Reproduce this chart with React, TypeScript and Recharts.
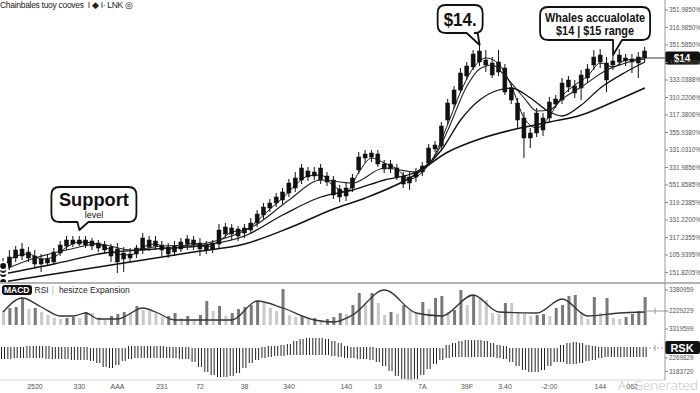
import React from 'react';
import { ComposedChart, Bar, Line, XAxis, YAxis, ReferenceLine, ReferenceDot, Cell } from 'recharts';

// [open, high, low, close]
const candles: [number, number, number, number][] = [
  [3.35, 4.0, 3.1, 3.7], [3.55, 4.4, 3.4, 4.05], [4.0, 4.6, 3.8, 4.4], [4.45, 4.75, 3.9, 4.1], [4.3, 4.55, 3.8, 4.0],
  [4.1, 4.4, 3.5, 3.7], [3.95, 4.2, 3.3, 3.7], [3.75, 4.2, 3.6, 3.95], [3.8, 4.5, 3.65, 4.3], [4.25, 4.85, 4.1, 4.65],
  [4.6, 5.1, 4.4, 4.9], [4.9, 5.1, 4.55, 4.7], [4.7, 5.1, 4.6, 4.9], [4.9, 5.1, 4.5, 4.65], [4.85, 5.0, 4.4, 4.6],
  [4.75, 4.9, 4.3, 4.5], [4.65, 4.85, 4.2, 4.4], [4.55, 4.7, 3.8, 4.1], [4.45, 4.75, 3.25, 3.8], [3.95, 4.55, 3.3, 4.25],
  [4.0, 4.5, 3.8, 4.2], [4.2, 4.65, 4.0, 4.5], [4.4, 5.25, 4.2, 5.0], [4.9, 5.1, 4.35, 4.55], [4.6, 5.1, 4.4, 4.85],
  [4.65, 4.85, 4.1, 4.4], [4.55, 4.75, 4.0, 4.2], [4.3, 4.85, 4.1, 4.6], [4.45, 5.0, 4.3, 4.8], [4.7, 5.15, 4.4, 4.95],
  [4.9, 5.1, 4.4, 4.65], [4.75, 5.0, 4.1, 4.45], [4.65, 4.85, 4.2, 4.4], [4.45, 4.9, 4.25, 4.75], [4.7, 5.7, 4.5, 5.4],
  [5.2, 5.75, 5.0, 5.55], [5.5, 5.7, 4.9, 5.2], [5.1, 5.6, 4.85, 5.45], [5.25, 5.7, 5.0, 5.5], [5.4, 6.0, 5.2, 5.75],
  [5.75, 6.4, 5.55, 6.2], [6.15, 6.75, 5.95, 6.55], [6.5, 6.95, 6.3, 6.75], [6.75, 7.25, 6.55, 7.05], [6.9, 7.5, 6.7, 7.3],
  [7.25, 7.95, 7.05, 7.75], [7.5, 8.3, 7.3, 8.0], [7.9, 8.7, 7.7, 8.5], [8.35, 8.55, 7.85, 8.05], [8.1, 8.55, 7.9, 8.3],
  [8.5, 8.7, 7.7, 7.9], [8.1, 8.3, 7.6, 7.8], [7.9, 8.1, 6.95, 7.15], [7.45, 7.65, 6.8, 7.05], [7.1, 7.75, 6.85, 7.5],
  [7.5, 8.2, 7.3, 8.0], [8.4, 9.3, 8.2, 9.05], [9.0, 9.4, 8.75, 9.2], [9.05, 9.4, 8.8, 9.25], [9.2, 9.4, 8.55, 8.7],
  [8.7, 8.9, 8.25, 8.45], [8.45, 8.9, 8.25, 8.7], [8.5, 8.7, 7.9, 8.05], [8.1, 8.3, 7.5, 7.7], [7.75, 8.3, 7.4, 8.05],
  [8.05, 8.5, 7.8, 8.3], [8.3, 8.8, 8.1, 8.6], [8.75, 9.7, 8.6, 9.5], [9.45, 9.85, 9.3, 9.65], [9.6, 10.8, 9.4, 10.6],
  [10.9, 11.95, 10.7, 11.75], [11.7, 12.6, 11.5, 12.4], [12.4, 13.5, 12.25, 13.25], [13.1, 13.8, 12.9, 13.6], [13.55, 14.4, 13.4, 14.2],
  [13.8, 14.75, 13.6, 14.35], [13.9, 14.4, 13.3, 13.65], [13.75, 14.05, 13.0, 13.15], [13.3, 14.4, 13.1, 13.8], [13.5, 13.7, 12.15, 12.3],
  [12.5, 12.7, 11.7, 11.9], [11.75, 12.0, 10.5, 10.9], [11.0, 11.3, 9.0, 10.0], [10.25, 10.5, 9.5, 10.0], [10.25, 11.5, 10.05, 11.25],
  [11.0, 11.25, 10.1, 10.4], [11.0, 12.05, 10.8, 11.8], [11.7, 12.15, 11.5, 11.95], [11.9, 13.0, 11.7, 12.75], [12.55, 13.1, 12.3, 12.9],
  [12.6, 12.9, 12.0, 12.25], [12.5, 13.4, 11.9, 13.15], [13.0, 13.7, 12.75, 13.45], [13.65, 14.4, 13.4, 14.05], [13.8, 14.45, 13.5, 14.15],
  [13.75, 14.05, 12.3, 12.9], [13.65, 14.1, 13.4, 13.85], [13.8, 14.45, 13.6, 14.15], [14.0, 14.2, 13.6, 13.85], [13.8, 14.2, 13.25, 13.95],
  [13.75, 14.3, 13.0, 14.05], [14.0, 14.55, 13.8, 14.35],
];

// moving averages: [candle index, value]
const maFast: [number, number][] = [
  [0, 3.6], [2, 4.1], [4, 4.2], [6, 3.95], [8, 4.05], [10, 4.55], [12, 4.8], [14, 4.75], [16, 4.55], [18, 4.2],
  [20, 4.15], [22, 4.55], [24, 4.7], [26, 4.45], [28, 4.55], [30, 4.75], [32, 4.55], [34, 4.85], [36, 5.3], [38, 5.4],
  [40, 5.85], [42, 6.45], [44, 7.0], [46, 7.65], [48, 8.1], [50, 8.15], [52, 7.6], [54, 7.3], [56, 8.3], [58, 9.0],
  [60, 8.75], [62, 8.45], [64, 7.95], [66, 8.3], [68, 9.2], [70, 10.7], [72, 12.3], [74, 13.5], [76, 14.0], [78, 13.7],
  [80, 12.6], [82, 11.0], [84, 10.5], [86, 11.1], [88, 12.1], [90, 12.65], [92, 13.1], [94, 13.75], [96, 13.55], [98, 13.9],
  [100, 13.95], [101, 14.1],
];
const maMid: [number, number][] = [
  [0, 3.4], [5, 4.0], [10, 4.4], [15, 4.7], [20, 4.4], [25, 4.6], [30, 4.65], [35, 5.0], [40, 5.7], [45, 6.9],
  [50, 7.9], [55, 7.75], [60, 8.5], [65, 8.3], [68, 9.1], [70, 10.4], [73, 12.6], [75, 13.45], [77, 13.65], [79, 13.1],
  [82, 12.0], [84, 11.35], [86, 11.4], [88, 11.95], [91, 12.55], [95, 13.4], [98, 13.75], [101, 13.95],
];
const maSlow: [number, number][] = [
  [0, 3.2], [8, 3.7], [16, 4.25], [24, 4.45], [32, 4.65], [38, 5.1], [44, 6.15], [50, 7.05], [55, 7.4], [60, 7.9],
  [65, 8.3], [69, 9.4], [72, 10.9], [75, 11.9], [78, 12.4], [80, 12.5], [83, 12.0], [86, 11.3], [88, 11.1], [91, 11.65],
  [94, 12.5], [98, 13.3], [101, 13.8],
];
const maBase: [number, number][] = [
  [0, 2.8], [10, 3.3], [20, 3.8], [30, 4.3], [38, 4.7], [45, 5.5], [52, 6.45], [57, 7.0], [64, 8.0], [70, 9.3],
  [75, 9.95], [80, 10.4], [86, 10.8], [91, 11.15], [96, 11.8], [101, 12.5],
];

const macdHist: number[] = [
  15, 17, 18, 27, 16, 17, 13, 10, 7, 6, 7, 8, 7, 13, 12, 8, 5, 9, 11, 13,
  12, 19, 15, 14, 13, 8, 9, 12, 7, 9, 6, 10, 24, 14, 19, 9, 12, 16, 18, 20,
  24, 22, 17, 14, 36, 10, 8, 9, 6, 7, 5, 6, 8, 12, 11, 20, 32, 20, 32, 22,
  10, 13, 11, 20, 15, 12, 23, 16, 27, 29, 13, 15, 35, 20, 30, 28, 25, 12, 11, 22,
  22, 12, 11, 9, 10, 11, 9, 17, 20, 29, 30, 13, 6, 28, 12, 27, 7, 6, 8, 11,
  14, 28,
];
const macdSignal: [number, number][] = [
  [0, 13], [3, 27], [6, 18], [9, 9], [11, 9], [13, 12], [15, 6], [18, 6], [22, 17], [24, 13],
  [27, 5], [36, 5], [40, 24], [44, 17], [49, 5], [52, 3], [55, 10], [60, 35], [65, 12], [69, 9],
  [74, 30], [78, 13], [84, 12], [88, 26], [92, 9], [97, 12], [101, 13],
];

const oscHigh: number[] = [
  1, 1, 1, 1, 2, 2, 2, 2, 1, 1, 1, 1, 1, 1,
  0, 0, 0, 0, 0, 0,
  2, 2, 2, 2, 2, 2, 1, 1, 1, 1,
  0, 0, 0, 0, 0, 0, 0, 0, 0, 0, 0,
  1, 2, 2, 3,
  4, 7, 9, 10, 10, 10, 9, 7, 5,
  2, 1, 1, 1, 1,
  0, 0, 0, 0, 0, 0, 0, 0, 0, 0, 0,
  3, 5, 7, 8, 8, 8, 7, 5, 3, 2,
  0, 0, 0, 0, 0, 0, 0, 0,
  3, 5, 6, 5, 3, 2,
  1, 1, 1, 1, 1, 1, 1, 1,
];
const oscLow: number[] = [
  -11, -11, -10, -10, -10, -10, -10, -11, -11, -11, -11, -12, -12, -12,
  -13, -15, -19, -20, -17, -13,
  -11, -10, -10, -10, -10, -10, -10, -10, -11, -11,
  -14, -19, -24, -27, -29, -29, -28, -25, -20, -15, -12,
  -10, -9, -8, -8,
  -7, -7, -7, -7, -7, -7, -7, -8, -9,
  -10, -10, -11, -11, -12,
  -14, -18, -23, -28, -31, -32, -31, -27, -21, -16, -12,
  -10, -9, -9, -9, -9, -9, -9, -9, -10, -11,
  -14, -18, -22, -24, -24, -22, -18, -14,
  -14, -16, -16, -15, -13, -12,
  -10, -9, -9, -9, -9, -9, -9, -9,
];

const priceTicks = [16.4, 15.525, 14.65, 13.775, 12.9, 12.025, 11.15, 10.275, 9.4, 8.525, 7.65, 6.775, 5.9, 5.025, 4.15, 3.275];
const priceTickLabels = [
  '351.9850%', '316.9850%', '351.5850%', '318.9850%', '333.0388%', '310.2206%', '317.3806%', '355.9380%',
  '331.0310%', '331.9856%', '551.8585%', '319.2385%', '331.2200%', '317.2355%', '105.9395%', '151.8205%',
];
const macdTicks = [35, 14, -4];
const macdTickLabels = ['3380959', '2229229', '3319599'];
const oscTicks = [-10, -23.5];
const oscTickLabels = ['2269829', '3183720'];
const xTickIdx = [5, 12, 18, 25, 31, 38, 45, 54, 59, 66, 73, 79, 86, 94, 99];
const xTickLabels = ['2520', '330', 'AAA', '231', '72', '38', '340', '140', '19', '7A', '39F', '3.40', '-2:00', '144', '062'];

const lastPrice = 14;

const pick = (pts: [number, number][], i: number) => {
  const p = pts.find((q) => q[0] === i);
  return p ? p[1] : null;
};

const rows = candles.map((c, i) => ({
  t: i,
  o: c[0], h: c[1], l: c[2], c: c[3],
  range: [c[2], c[1]],
  maA: pick(maFast, i), maB: pick(maMid, i), maC: pick(maSlow, i), maD: pick(maBase, i),
  hist: macdHist[i],
  sig: pick(macdSignal, i),
  osc: [oscLow[i], oscHigh[i]],
}));

const FONT = '"Liberation Sans", Arial, sans-serif';

const CandleShape = (props: any) => {
  const { x, y, width, height, payload } = props;
  if (x == null || y == null) return null;
  const { o, h, l, c } = payload;
  const top = Math.min(y, y + height);
  const hgt = Math.abs(height);
  const k = h === l ? 0 : hgt / (h - l);
  const yOf = (v: number) => top + (h - v) * k;
  const cx = x + width / 2;
  const bt = yOf(Math.max(o, c));
  const bb = yOf(Math.min(o, c));
  return (
    <g>
      <line x1={cx} x2={cx} y1={top} y2={top + hgt} stroke="#111" strokeWidth={1} />
      <rect x={x} y={bt} width={width} height={Math.max(1.2, bb - bt)} fill="#111" stroke="#111" strokeWidth={0.5} />
    </g>
  );
};

const OscShape = (props: any) => {
  const { x, y, width, height } = props;
  if (x == null || y == null) return null;
  const top = Math.min(y, y + height);
  const bot = top + Math.abs(height);
  const x1 = x + width * 0.25;
  const x2 = x + width * 0.75;
  return (
    <g>
      <line x1={x1} x2={x1} y1={top} y2={bot} stroke="#222" strokeWidth={1} />
      <line x1={x2} x2={x2} y1={top} y2={bot} stroke="#222" strokeWidth={1} />
    </g>
  );
};

const bubblePath = (L: number, T: number, R: number, B: number, r: number, x1: number, x2: number, tx: number, ty: number) =>
  `M${L + r},${T} H${R - r} Q${R},${T} ${R},${T + r} V${B - r} Q${R},${B} ${R - r},${B} H${x2} L${tx},${ty} L${x1},${B} H${L + r} Q${L},${B} ${L},${B - r} V${T + r} Q${L},${T} ${L + r},${T} Z`;

const makeBubble = (spec: {
  l: number; t: number; r: number; b: number; x1: number; x2: number;
  lines: { text: string; dy: number; size: number; len?: number; weight?: number }[];
}) => (props: any) => {
  const vb = props.viewBox || {};
  const tx = (vb.x ?? 0) + (vb.width ?? 0) / 2;
  const ty = (vb.y ?? 0) + (vb.height ?? 0) / 2;
  const L = tx + spec.l, T = ty + spec.t, R = tx + spec.r, B = ty + spec.b;
  const cx = (L + R) / 2;
  return (
    <g>
      <path d={bubblePath(L, T, R, B, 8, tx + spec.x1, tx + spec.x2, tx, ty)} fill="#fff" stroke="#111" strokeWidth={1.8} strokeLinejoin="round" />
      {spec.lines.map((ln, i) => (
        <text key={i} x={cx} y={T + ln.dy} textAnchor="middle" fontFamily={FONT} fontWeight={ln.weight ?? 700}
          fontSize={ln.size} fill="#111" textLength={ln.len} lengthAdjust="spacingAndGlyphs">{ln.text}</text>
      ))}
    </g>
  );
};

const supportBubble = makeBubble({
  l: -28, t: -43, r: 57, b: -8, x1: -2, x2: 9,
  lines: [
    { text: 'Support', dy: 19, size: 19, len: 70 },
    { text: 'level', dy: 31, size: 9, weight: 400 },
  ],
});
const peakBubble = makeBubble({
  l: -42, t: -40, r: 3, b: -12, x1: -13, x2: -2,
  lines: [{ text: '$14.', dy: 21, size: 18, len: 33 }],
});
const whalesBubble = makeBubble({
  l: -73, t: -48, r: 37, b: -15, x1: 0, x2: 9,
  lines: [
    { text: 'Whales accualolate', dy: 15, size: 12.5, len: 100 },
    { text: '$14 | $15 range', dy: 28, size: 12.5, len: 78 },
  ],
});

const PriceTag = (props: any) => {
  const vb = props.viewBox || {};
  const xr = (vb.x ?? 0) + (vb.width ?? 0);
  const y = vb.y ?? 0;
  return (
    <g>
      <line x1={xr - 24} x2={xr} y1={y} y2={y} stroke="#333" strokeWidth={1} />
      <rect x={xr} y={y - 6.5} width={35} height={13} rx={2} fill="#111" />
      <text x={xr + 17} y={y + 3.5} textAnchor="middle" fontFamily={FONT} fontWeight={700} fontSize={10} fill="#fff">{`$${lastPrice}`}</text>
    </g>
  );
};

const RskTag = (props: any) => {
  const vb = props.viewBox || {};
  const xr = (vb.x ?? 0) + (vb.width ?? 0);
  const y = vb.y ?? 0;
  return (
    <g>
      <line x1={xr - 20} x2={xr} y1={y} y2={y} stroke="#999" strokeWidth={1} strokeDasharray="2 2" />
      <line x1={xr - 10} x2={xr - 10} y1={y - 3} y2={y + 3} stroke="#999" strokeWidth={1} />
      <rect x={xr} y={y - 7} width={35} height={13} rx={2} fill="#111" />
      <text x={xr + 17} y={y + 3.5} textAnchor="middle" fontFamily={FONT} fontWeight={700} fontSize={11} fill="#fff">RSK</text>
    </g>
  );
};

const SigTag = (props: any) => {
  const vb = props.viewBox || {};
  const xr = (vb.x ?? 0) + (vb.width ?? 0);
  const y = vb.y ?? 0;
  return (
    <g>
      <line x1={xr - 20} x2={xr} y1={y} y2={y} stroke="#999" strokeWidth={1} />
      <line x1={xr - 10} x2={xr - 10} y1={y - 3} y2={y + 3} stroke="#999" strokeWidth={1} />
    </g>
  );
};

const axisTick = { fontSize: 6.3, fill: '#555', fontFamily: FONT };
const xTick = { fontSize: 7, fill: '#555', fontFamily: FONT };

export default function App() {
  return (
    <div style={{ position: 'absolute', left: 0, top: 0, width: 700, height: 393, background: '#fff', overflow: 'hidden', fontFamily: FONT }}>
      <div style={{ position: 'absolute', left: 0, top: 0, fontSize: 8.5, color: '#222', whiteSpace: 'nowrap', letterSpacing: -0.3 }}>
        Chainbales tuoy cooves&nbsp;&nbsp;I ◆ I· LNK ◎
      </div>

      <div style={{ position: 'absolute', left: 0, top: 0 }}>
        <ComposedChart width={700} height={283} data={rows} margin={{ top: 0, right: 0, bottom: 0, left: 0 }}>
          <XAxis dataKey="t" type="category" hide padding={{ left: 0, right: 17 }} />
          <YAxis orientation="right" width={35} domain={[2.75, 16.9]} ticks={priceTicks} interval={0} allowDataOverflow
            tickFormatter={(v: number) => priceTickLabels[priceTicks.indexOf(v)] ?? ''}
            tick={axisTick} tickSize={3} tickMargin={1} axisLine={{ stroke: '#999' }} tickLine={{ stroke: '#888' }} />
          <Bar dataKey="range" barSize={4} shape={CandleShape} isAnimationActive={false} />
          <Line dataKey="maD" type="monotone" connectNulls dot={false} stroke="#111" strokeWidth={1.5} isAnimationActive={false} />
          <Line dataKey="maC" type="monotone" connectNulls dot={false} stroke="#111" strokeWidth={1.3} isAnimationActive={false} />
          <Line dataKey="maB" type="monotone" connectNulls dot={false} stroke="#222" strokeWidth={1.1} isAnimationActive={false} />
          <Line dataKey="maA" type="monotone" connectNulls dot={false} stroke="#111" strokeWidth={1} isAnimationActive={false} />
          <ReferenceLine y={lastPrice} stroke="none" label={PriceTag} />
          <ReferenceDot x={12} y={5.4} r={1} fill="transparent" stroke="none" label={supportBubble} />
          <ReferenceDot x={75} y={14.65} r={1} fill="transparent" stroke="none" label={peakBubble} />
          <ReferenceDot x={96} y={14.15} r={1} fill="transparent" stroke="none" label={whalesBubble} />
        </ComposedChart>
      </div>

      <div style={{ position: 'absolute', left: 0, top: 282, width: 700, height: 2, background: '#b5b5b5' }} />

      <div style={{ position: 'absolute', left: 0, top: 283 }}>
        <ComposedChart width={700} height={50} data={rows} margin={{ top: 0, right: 0, bottom: 0, left: 0 }}>
          <XAxis dataKey="t" type="category" hide padding={{ left: 0, right: 17 }} />
          <YAxis orientation="right" width={35} domain={[-8, 42]} ticks={macdTicks} interval={0} allowDataOverflow
            tickFormatter={(v: number) => macdTickLabels[macdTicks.indexOf(v)] ?? ''}
            tick={axisTick} tickSize={3} tickMargin={1} axisLine={{ stroke: '#999' }} tickLine={{ stroke: '#888' }} />
          <Bar dataKey="hist" barSize={3} isAnimationActive={false}>
            {rows.map((r, i) => (
              <Cell key={i} fill={i > 0 && r.hist > rows[i - 1].hist ? '#7a7a7a' : '#c9c9c9'} />
            ))}
          </Bar>
          <Line dataKey="sig" type="monotone" connectNulls dot={false} stroke="#333" strokeWidth={1.3} isAnimationActive={false} />
          <ReferenceLine y={14} stroke="none" label={SigTag} />
        </ComposedChart>
      </div>

      <div style={{ position: 'absolute', left: 0, top: 333 }}>
        <ComposedChart width={700} height={60} data={rows} margin={{ top: 0, right: 0, bottom: 0, left: 0 }} barCategoryGap={0}>
          <XAxis dataKey="t" type="category" height={13} padding={{ left: 0, right: 17 }} ticks={xTickIdx} interval={0}
            tickFormatter={(v: number) => xTickLabels[xTickIdx.indexOf(v)] ?? ''}
            tick={xTick} tickLine={false} tickSize={3} tickMargin={1} axisLine={{ stroke: '#d5d5d5' }} />
          <YAxis orientation="right" width={35} domain={[-32, 15]} ticks={oscTicks} interval={0} allowDataOverflow
            tickFormatter={(v: number) => oscTickLabels[oscTicks.indexOf(v)] ?? ''}
            tick={axisTick} tickSize={3} tickMargin={1} axisLine={{ stroke: '#999' }} tickLine={{ stroke: '#888' }} />
          <Bar dataKey="osc" barSize={6} shape={OscShape} isAnimationActive={false} />
          <ReferenceLine y={0} stroke="none" label={RskTag} />
        </ComposedChart>
      </div>

      <div style={{ position: 'absolute', left: 8, top: 285, display: 'flex', alignItems: 'center', fontSize: 8.5, color: '#222', whiteSpace: 'nowrap' }}>
        <span style={{ background: '#111', color: '#fff', fontWeight: 700, borderRadius: 3, padding: '0 2px', marginLeft: -6 }}>MACD</span>
        <span style={{ marginLeft: 3 }}>RSI</span>
        <span style={{ marginLeft: 3, color: '#aaa' }}>|</span>
        <span style={{ marginLeft: 5 }}>hesizce Expansion</span>
      </div>

      <div style={{ position: 'absolute', left: 618, top: 377, fontSize: 13.5, lineHeight: '16px', color: '#c4c4c4', fontFamily: '"Open Sans", sans-serif', fontWeight: 300, whiteSpace: 'nowrap' }}>
        AI Generated
      </div>
    </div>
  );
}
